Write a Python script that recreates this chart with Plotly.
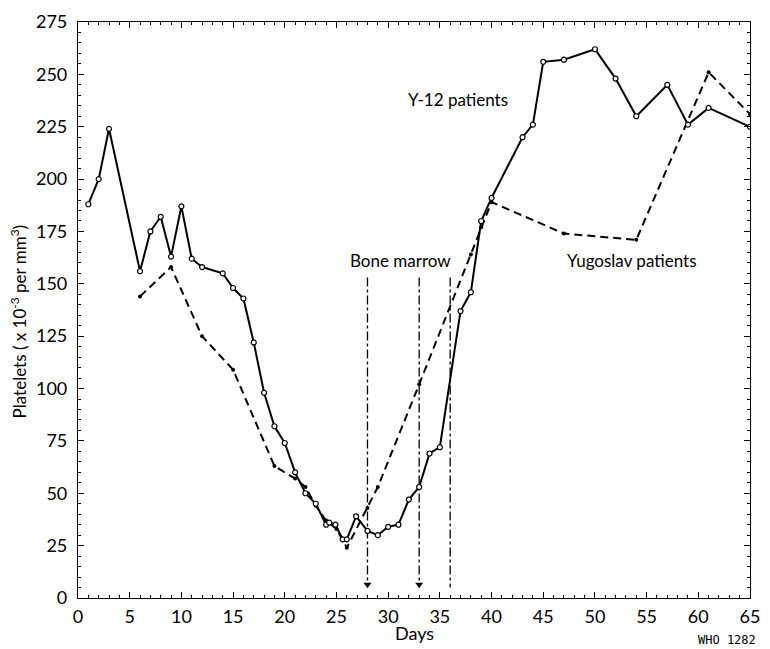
import plotly.graph_objects as go

# ---- data ----
y12_days = [1, 2, 3, 6, 7, 8, 9, 10, 11, 12, 14, 15, 16, 17, 18, 19, 20, 21, 22, 23,
            24, 24.3, 24.9, 25.6, 26, 26.9, 28, 29, 30, 31, 32, 33, 34, 35, 37, 38, 39, 40,
            43, 44, 45, 47, 50, 52, 54, 57, 59, 61, 65]
y12_vals = [188, 200, 224, 156, 175, 182, 163, 187, 162, 158, 155, 148, 143, 122, 98, 82, 74, 60, 50, 45,
            35, 36, 35, 28, 28, 39, 32, 30, 34, 35, 47, 53, 69, 72, 137, 146, 180, 191,
            220, 226, 256, 257, 262, 248, 230, 245, 226, 234, 225]

yu_days = [6, 9, 12, 15, 19, 21, 22, 23, 24, 25, 26, 28, 29, 33, 38, 39, 40, 47, 54, 61, 65]
yu_vals = [144, 158, 125, 109, 63, 57, 53, 44, 37, 33, 24, 43, 53, 102, 164, 177, 189, 174, 171, 251, 231]

marrow_days = [28, 33, 36]
marrow_arrow_days = [28, 33]
marrow_top = 153
marrow_bottom = 5

x_ticks = list(range(0, 66, 5))
y_ticks = list(range(0, 276, 25))

FONT = "Lato"

fig = go.Figure()

for d in marrow_days:
    fig.add_trace(go.Scatter(
        x=[d, d], y=[marrow_top, marrow_bottom], mode="lines",
        line=dict(color="black", width=1.3, dash="dashdot"),
        hoverinfo="skip", showlegend=False))

fig.add_trace(go.Scatter(
    x=marrow_arrow_days, y=[marrow_bottom + 1.5] * len(marrow_arrow_days), mode="markers",
    marker=dict(symbol="triangle-down", size=7, color="black"),
    hoverinfo="skip", showlegend=False))

fig.add_trace(go.Scatter(
    x=yu_days, y=yu_vals, mode="lines+markers", name="Yugoslav patients",
    line=dict(color="black", width=2, dash="8px,5px"),
    marker=dict(symbol="circle", size=4, color="black"),
    showlegend=False))

fig.add_trace(go.Scatter(
    x=y12_days, y=y12_vals, mode="lines+markers", name="Y-12 patients",
    line=dict(color="black", width=2),
    marker=dict(symbol="circle", size=5, color="white",
                line=dict(color="black", width=1.2)),
    showlegend=False))

annotations = [
    dict(x=31.2, y=161, xref="x", yref="y", text="Bone marrow", showarrow=False,
         font=dict(family=FONT, size=17, color="black")),
    dict(x=36.8, y=238, xref="x", yref="y", text="Y-12 patients", showarrow=False,
         font=dict(family=FONT, size=17, color="black")),
    dict(x=53.6, y=161, xref="x", yref="y", text="Yugoslav patients", showarrow=False,
         font=dict(family=FONT, size=17, color="black")),
    dict(x=-0.088, y=0.48, xref="paper", yref="paper", textangle=-90,
         xanchor="center", yanchor="middle",
         text="Platelets ( x 10<sup>-3</sup> per mm<sup>3</sup>)", showarrow=False,
         font=dict(family=FONT, size=17, color="black")),
    dict(x=0.5, y=-0.06, xref="paper", yref="paper", xanchor="center", yanchor="middle",
         text="Days", showarrow=False, font=dict(family=FONT, size=18, color="black")),
    dict(x=1.012, y=-0.073, xref="paper", yref="paper", xanchor="right", yanchor="middle",
         text="WHO 1282", showarrow=False,
         font=dict(family="DejaVu Sans Mono", size=12, color="black")),
]

fig.update_layout(
    width=770, height=649,
    margin=dict(l=78, r=10, t=14, b=51),
    paper_bgcolor="white", plot_bgcolor="white",
    font=dict(family=FONT, size=17, color="black"),
    annotations=annotations,
    xaxis=dict(range=[0, 65], tickvals=x_ticks, ticks="inside", ticklen=6,
               tickcolor="black", showline=True, linecolor="black", linewidth=1.2,
               mirror="ticks", showgrid=False, zeroline=False,
               minor=dict(dtick=1, ticks="inside", ticklen=3, tickcolor="black"),
               ticklabelstandoff=2, tickfont=dict(size=18)),
    yaxis=dict(range=[0, 275], tickvals=y_ticks, ticks="inside", ticklen=6,
               tickcolor="black", showline=True, linecolor="black", linewidth=1.2,
               mirror="ticks", showgrid=False, zeroline=False,
               minor=dict(dtick=5, ticks="inside", ticklen=3, tickcolor="black"),
               ticklabelstandoff=6, tickfont=dict(size=18)),
)

fig.write_html("out.html")
